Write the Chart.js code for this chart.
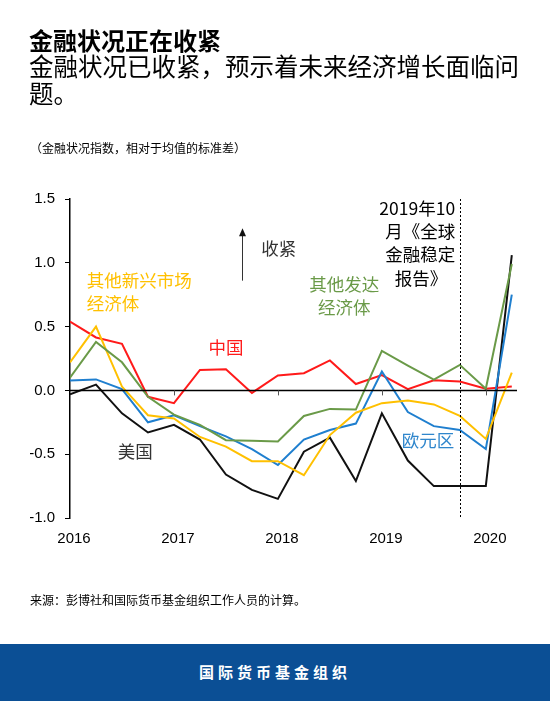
<!DOCTYPE html>
<html>
<head>
<meta charset="utf-8">
<script src="https://cdn.jsdelivr.net/npm/chart.js@4"></script>
<style>
  html, body { margin: 0; padding: 0; background: #fff; }
  body { width: 550px; height: 701px; position: relative; overflow: hidden;
         font-family: "Noto Sans CJK SC", "Liberation Sans", sans-serif; color: #000; }
  #chart { position: absolute; left: 0; top: 0; }
  .title { position: absolute; left: 29px; top: 25px; font-size: 24px; font-weight: bold; line-height: 30px; }
  .subtitle { position: absolute; left: 29px; top: 52px; width: 505px; font-size: 24.5px; line-height: 27px; }
  .units { position: absolute; left: 30px; top: 139px; font-size: 12px; }
  .source { position: absolute; left: 30px; top: 591px; font-size: 12px; }
  .footer { position: absolute; left: 0; top: 644px; width: 550px; height: 57px; background: #0b4f95;
            color: #fff; font-size: 15px; font-weight: bold; letter-spacing: 4px; text-align: center; line-height: 55px; }
</style>
</head>
<body>
<canvas id="chart" width="550" height="701"></canvas>
<div class="title">金融状况正在收紧</div>
<div class="subtitle">金融状况已收紧，预示着未来经济增长面临问题。</div>
<div class="units">（金融状况指数，相对于均值的标准差）</div>
<div class="source">来源：彭博社和国际货币基金组织工作人员的计算。</div>
<div class="footer">国际货币基金组织</div>
<script>
// 季度（2016年第1季度〜2020年第2季度）
const quarters = ['2016Q1','2016Q2','2016Q3','2016Q4','2017Q1','2017Q2','2017Q3','2017Q4',
                  '2018Q1','2018Q2','2018Q3','2018Q4','2019Q1','2019Q2','2019Q3','2019Q4',
                  '2020Q1','2020Q2'];
const yearLabels = ['2016', '2017', '2018', '2019', '2020'];

// 各系列の値
const unitedStates = [-0.03, 0.045, -0.18, -0.33, -0.27, -0.385, -0.66, -0.78, -0.85, -0.48, -0.37, -0.71, -0.18, -0.55, -0.75, -0.75, -0.75, 1.06];
const china        = [0.54, 0.415, 0.365, -0.05, -0.10, 0.16, 0.165, -0.02, 0.117, 0.135, 0.235, 0.05, 0.12, 0.01, 0.08, 0.07, 0.013, 0.03];
const euroArea     = [0.078, 0.086, 0.01, -0.25, -0.195, -0.28, -0.36, -0.46, -0.585, -0.385, -0.31, -0.26, 0.148, -0.17, -0.28, -0.31, -0.46, 0.75];
const otherEM      = [0.22, 0.5, 0.03, -0.195, -0.22, -0.365, -0.44, -0.555, -0.555, -0.665, -0.35, -0.175, -0.10, -0.08, -0.11, -0.20, -0.38, 0.14];
const otherAE      = [0.10, 0.38, 0.22, -0.05, -0.19, -0.27, -0.39, -0.395, -0.40, -0.2, -0.145, -0.15, 0.31, 0.195, 0.085, 0.20, 0.013, 0.99];

// 2019年10月 GFSR の位置
const gfsrQuarter = '2019Q4';

const cjk = '"Noto Sans CJK SC", sans-serif';

function toPoints(values) {
    return values.map((v, i) => ({ x: i, y: v }));
}

// ラベル（データ座標で配置）
const notes = [
    { lines: ['其他新兴市场', '经济体'], x: 0.64, y: 0.86, align: 'left', color: '#ffc000' },
    { lines: ['中国'], x: 5.33, y: 0.34, align: 'left', color: '#ff1a1a' },
    { lines: ['其他发达', '经济体'], x: 10.55, y: 0.83, align: 'center', color: '#6a9a48' },
    { lines: ['美国'], x: 1.84, y: -0.48, align: 'left', color: '#333333' },
    { lines: ['欧元区'], x: 12.77, y: -0.39, align: 'left', color: '#2f86cc' },
    { lines: ['收紧'], x: 7.36, y: 1.11, align: 'left', color: '#333333' },
    { lines: ['2019年10', '月《全球', '金融稳定'], x: 14.82, y: 1.43, align: 'right', color: '#000000' },
    { lines: ['报告》'], x: 14.52, y: 0.88, align: 'right', color: '#000000' }
];

const decorPlugin = {
    id: 'decor',
    afterDatasetsDraw(chart) {
        const { ctx, chartArea, scales } = chart;
        const xs = scales.x, ys = scales.y;
        const y0 = ys.getPixelForValue(0);
        ctx.save();
        // ゼロ線と目盛り
        ctx.strokeStyle = '#000';
        ctx.lineWidth = 1.5;
        ctx.beginPath();
        ctx.moveTo(chartArea.left, y0);
        ctx.lineTo(chartArea.right, y0);
        ctx.stroke();
        ctx.lineWidth = 1;
        ctx.strokeStyle = '#555';
        [4, 8, 12, 16].forEach(i => {
            const px = Math.round(xs.getPixelForValue(i)) + 0.5;
            ctx.beginPath();
            ctx.moveTo(px, y0);
            ctx.lineTo(px, y0 + 5);
            ctx.stroke();
        });
        // 点線（2019年10月）
        const gx = Math.round(xs.getPixelForValue(quarters.indexOf(gfsrQuarter))) + 0.5;
        ctx.strokeStyle = '#000';
        ctx.setLineDash([2, 2]);
        ctx.beginPath();
        ctx.moveTo(gx, ys.getPixelForValue(1.5));
        ctx.lineTo(gx, ys.getPixelForValue(-1.0));
        ctx.stroke();
        ctx.setLineDash([]);
        // 矢印
        const ax = Math.round(xs.getPixelForValue(6.6)) + 0.5;
        const aTop = ys.getPixelForValue(1.27);
        const aBot = ys.getPixelForValue(0.86);
        ctx.strokeStyle = '#333';
        ctx.fillStyle = '#111';
        ctx.beginPath();
        ctx.moveTo(ax, aBot);
        ctx.lineTo(ax, aTop + 6);
        ctx.stroke();
        ctx.beginPath();
        ctx.moveTo(ax, aTop);
        ctx.lineTo(ax - 3.5, aTop + 8);
        ctx.lineTo(ax + 3.5, aTop + 8);
        ctx.closePath();
        ctx.fill();
        // テキスト
        ctx.font = '17.5px ' + cjk;
        ctx.textBaseline = 'middle';
        notes.forEach(n => {
            ctx.fillStyle = n.color;
            ctx.textAlign = n.align;
            const px = xs.getPixelForValue(n.x);
            const py = ys.getPixelForValue(n.y);
            n.lines.forEach((t, k) => ctx.fillText(t, px, py + k * 23));
        });
        ctx.restore();
    }
};

const ctx = document.getElementById('chart').getContext('2d');
new Chart(ctx, {
    type: 'line',
    data: {
        datasets: [
            { label: '其他发达经济体', data: toPoints(otherAE), borderColor: '#6a9a48' },
            { label: '其他新兴市场经济体', data: toPoints(otherEM), borderColor: '#ffc000' },
            { label: '欧元区', data: toPoints(euroArea), borderColor: '#1f7fcf' },
            { label: '中国', data: toPoints(china), borderColor: '#ff1a1a' },
            { label: '美国', data: toPoints(unitedStates), borderColor: '#111111' }
        ].map(d => Object.assign(d, { borderWidth: 2, pointRadius: 0, tension: 0, fill: false }))
    },
    options: {
        responsive: false,
        animation: false,
        events: [],
        layout: { padding: { top: 199, left: 30, right: 33, bottom: 143 } },
        plugins: { legend: { display: false }, tooltip: { enabled: false } },
        scales: {
            x: {
                type: 'linear',
                min: 0,
                max: 17.2,
                grid: { display: false, drawTicks: false },
                border: { display: false },
                afterFit(scale) { scale.height = 40; },
                afterBuildTicks(scale) {
                    scale.ticks = [0, 4, 8, 12, 16].map(v => ({ value: v }));
                },
                ticks: {
                    padding: 12,
                    labelOffset: 4,
                    maxRotation: 0,
                    autoSkip: false,
                    color: '#000',
                    font: { family: '"Liberation Sans", Arial, sans-serif', size: 15 },
                    callback: v => yearLabels[v / 4]
                }
            },
            y: {
                min: -1.0,
                max: 1.5,
                afterFit(scale) { scale.width = 40; },
                grid: { drawOnChartArea: false, drawTicks: true, tickLength: 5, color: '#000' },
                border: { display: true, color: '#000', width: 1.5 },
                ticks: {
                    stepSize: 0.5,
                    padding: 10,
                    color: '#000',
                    font: { family: '"Liberation Sans", Arial, sans-serif', size: 15 },
                    callback: v => v.toFixed(1)
                }
            }
        }
    },
    plugins: [decorPlugin]
});
</script>
</body>
</html>
